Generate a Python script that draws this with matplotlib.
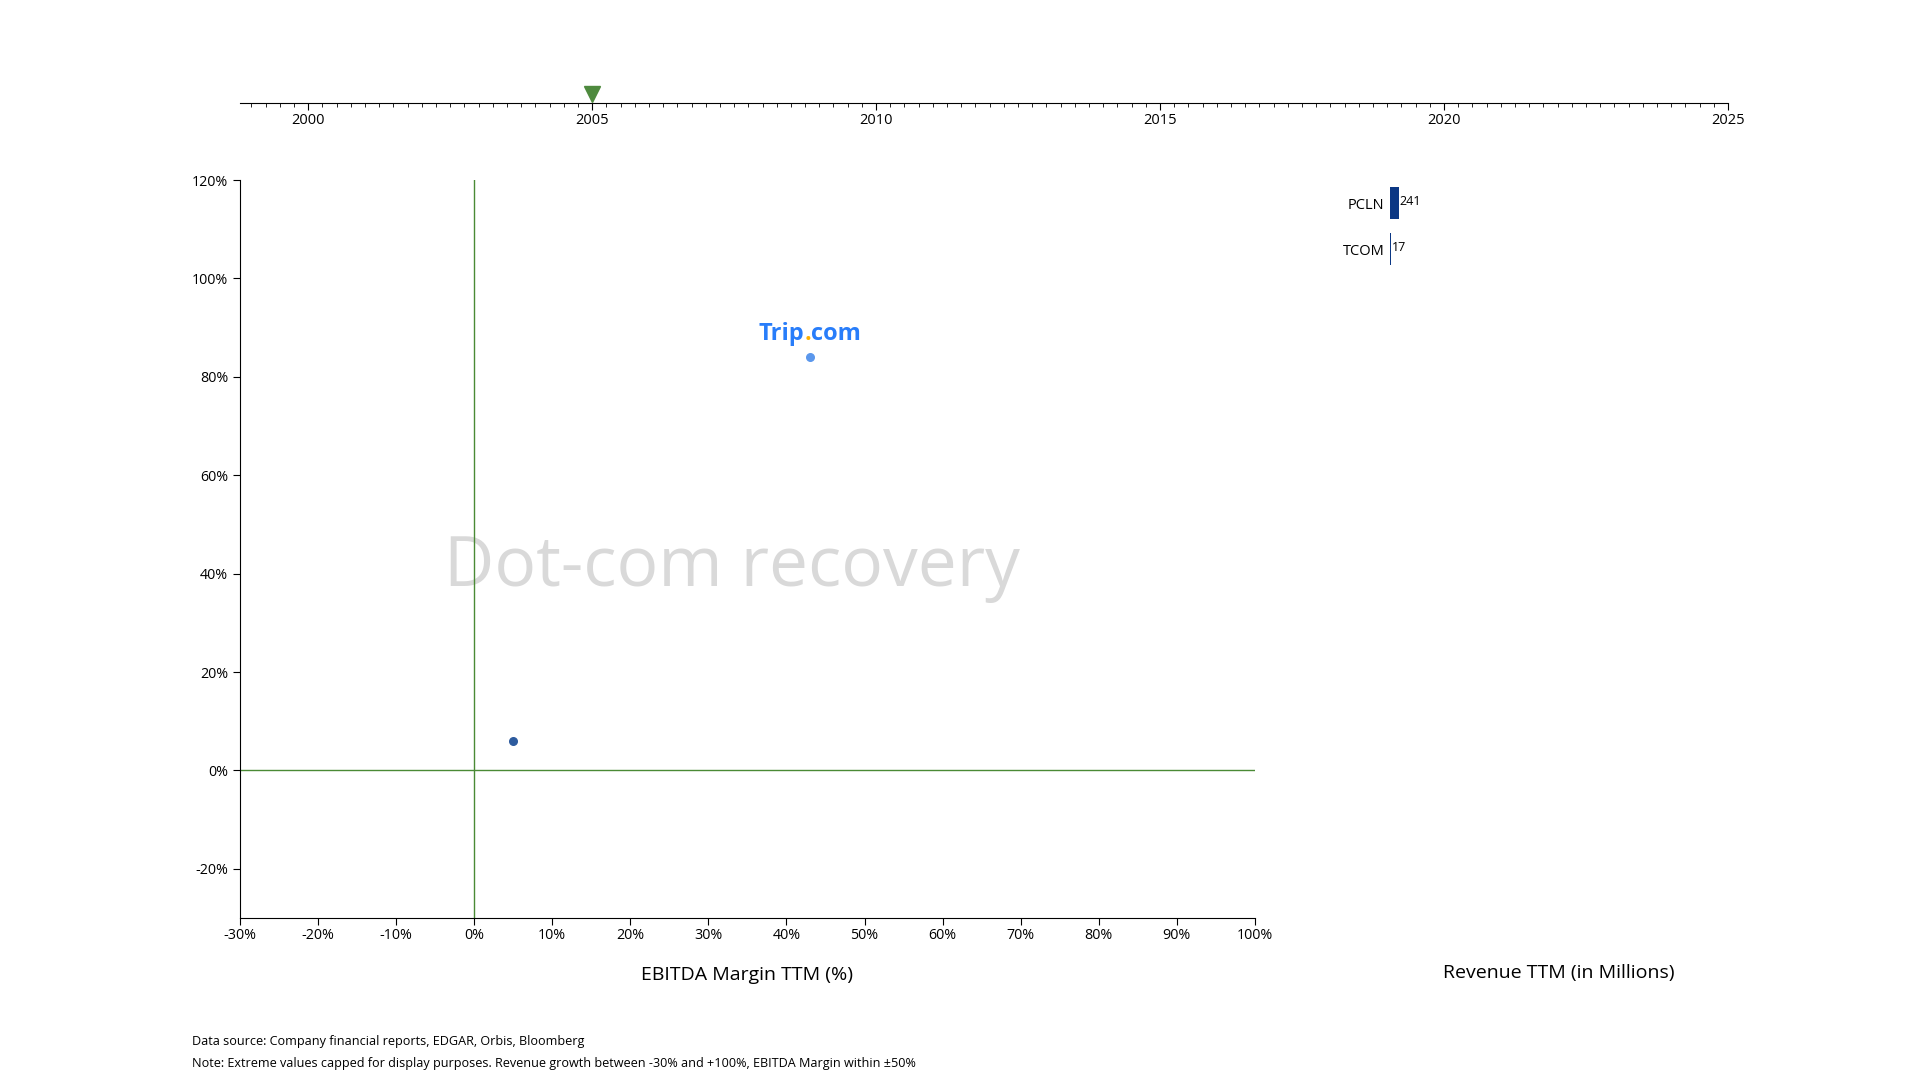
import numpy as np
import matplotlib
matplotlib.use("Agg")
import matplotlib.pyplot as plt
from matplotlib.ticker import MultipleLocator, FuncFormatter
from matplotlib.offsetbox import TextArea, HPacker, AnnotationBbox

plt.rcParams['font.family'] = ['Open Sans', 'DejaVu Sans']

# data
current_year = 2005
tickers = ["PCLN", "TCOM"]
ebitda_margin = [5, 43]        # %
revenue_growth = [6, 84]       # %
revenue_ttm = [241, 17]        # millions
dot_colors = ["#2d5b9e", "#5b97ec"]
bar_color = "#0b3784"
line_green = "#4a8a35"

fig = plt.figure(figsize=(19.2, 10.8), dpi=100)

# timeline on top
ax_t = fig.add_axes([0.125, 0.9046, 0.775, 0.037])
ax_t.set_xlim(1998.8, 2025)
ax_t.set_ylim(0, 1)
for s in ["left", "right", "top"]:
    ax_t.spines[s].set_visible(False)
ax_t.set_yticks([])
ax_t.xaxis.set_major_locator(MultipleLocator(5))
ax_t.xaxis.set_minor_locator(MultipleLocator(0.25))
ax_t.tick_params(axis="x", which="major", length=5, labelsize=10.5, pad=2)
ax_t.tick_params(axis="x", which="minor", length=3)
ax_t.plot([current_year], [0.23], marker="v", color="#4e8a3e", markersize=11,
          clip_on=False)

# main scatter
ax = fig.add_axes([0.125, 0.15, 0.5286, 0.6833])
ax.set_xlim(-30, 100)
ax.set_ylim(-30, 120)
ax.spines["top"].set_visible(False)
ax.spines["right"].set_visible(False)
ax.xaxis.set_major_locator(MultipleLocator(10))
pct = FuncFormatter(lambda v, p: "{:.0f}%".format(v))
ax.xaxis.set_major_formatter(pct)
ax.yaxis.set_major_formatter(pct)
ax.tick_params(labelsize=10.3, length=5)
ax.tick_params(axis="x", pad=2.5)
ax.set_yticks([-20, 0, 20, 40, 60, 80, 100, 120])
ax.axvline(0, color=line_green, lw=1)
ax.axhline(0, color=line_green, lw=1)
ax.set_xlabel("EBITDA Margin TTM (%)", fontsize=14, labelpad=16)

ax.text(33, 41.2, "Dot-com recovery", fontsize=50, color="#d9d9d9",
        ha="center", va="center", zorder=0)

for i in range(len(tickers)):
    ax.scatter(ebitda_margin[i], revenue_growth[i], s=30, color=dot_colors[i],
               zorder=3)

# Trip.com logo text above TCOM point
logo = HPacker(children=[
    TextArea("Trip", textprops=dict(color="#287dfa", fontsize=17, fontweight="bold")),
    TextArea(".", textprops=dict(color="#ffb000", fontsize=17, fontweight="bold")),
    TextArea("com", textprops=dict(color="#287dfa", fontsize=17, fontweight="bold")),
], pad=0, sep=0)
ab = AnnotationBbox(logo, (ebitda_margin[1], revenue_growth[1]),
                    xybox=(0, 17), xycoords="data", boxcoords="offset points",
                    frameon=False, box_alignment=(0.5, 0.5))
ax.add_artist(ab)

# revenue bars
ax_b = fig.add_axes([0.724, 0.15, 0.176, 0.6833])
ypos = np.arange(len(tickers))
ax_b.barh(ypos, revenue_ttm, height=0.7, color=bar_color)
ax_b.set_xlim(0, 9400)
ax_b.set_ylim(15.5, -0.5)
ax_b.set_yticks(ypos)
ax_b.set_yticklabels(tickers)
ax_b.tick_params(axis="y", length=0, labelsize=10.5, pad=4)
ax_b.set_xticks([])
for s in ax_b.spines.values():
    s.set_visible(False)
for i in range(len(tickers)):
    ax_b.text(revenue_ttm[i] + 20, ypos[i] - 0.03, str(revenue_ttm[i]),
              fontsize=9, va="center", ha="left")
ax_b.set_xlabel("Revenue TTM (in Millions)", fontsize=14, labelpad=33)

fig.text(0.1, 0.0355, "Data source: Company financial reports, EDGAR, Orbis, Bloomberg",
         fontsize=9.1, va="center")
fig.text(0.1, 0.0155, "Note: Extreme values capped for display purposes. Revenue growth between -30% and +100%, EBITDA Margin within ±50%",
         fontsize=9.1, va="center")

fig.savefig("out.png", dpi=100)
